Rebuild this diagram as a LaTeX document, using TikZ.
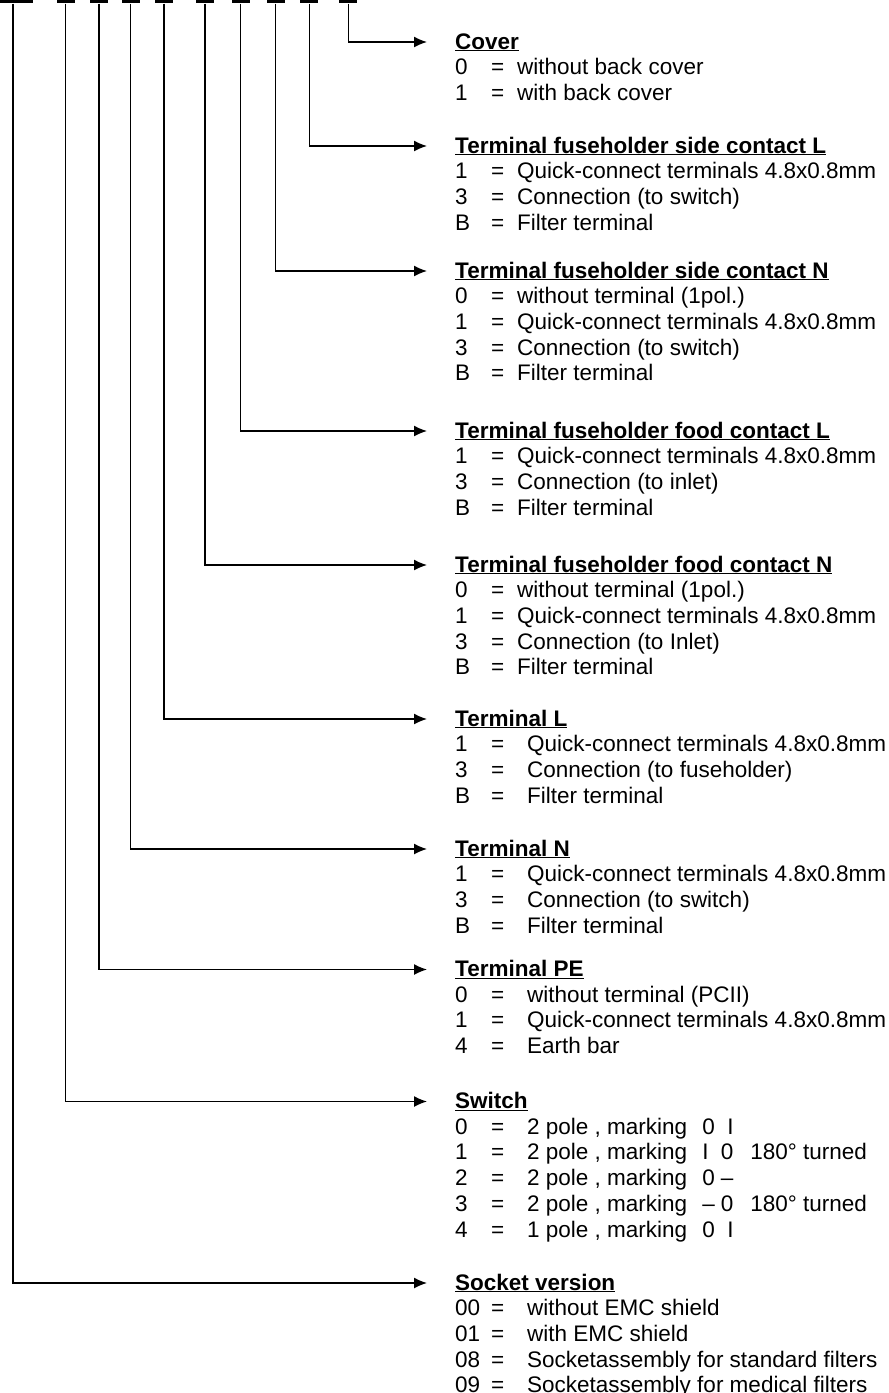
\documentclass[tikz,border=0pt]{standalone}
\usepackage{fontspec}
\setmainfont{Liberation Sans}
\usepackage{tikz}
\usetikzlibrary{arrows.meta}

\newcommand{\optfont}{\fontsize{22.5pt}{25.7pt}\selectfont}
\newcommand{\optrow}[3]{\makebox[36pt][l]{#1}\makebox[#2][l]{=}#3}

\tikzset{
    keybar/.style   = {fill=black, inner sep=0pt, minimum width=18pt, minimum height=3.4pt},
    codelink/.style = {black, line width=1.4pt, -{Latex[length=13pt, width=11pt]}},
    headtext/.style = {anchor=west, inner sep=0pt, text height=14pt, text depth=0pt, font=\optfont\bfseries},
    opttext/.style  = {anchor=base west, inner sep=0pt, font=\optfont},
}

\begin{document}
\begin{tikzpicture}[x=1pt, y=-1pt]
            \useasboundingbox (0,0) rectangle (889,1393);

            % key bars along the top edge
            \foreach \n/\x in {1/13, 2/65.7, 3/99, 4/130.7, 5/164, 6/205, 7/240.7, 8/275.7, 9/309.3, 10/348.3}
                \node       [keybar]                (k\n)       at (\x,1.7) {};
            \node       [keybar, minimum width=40pt] (k1)       at (13,1.7) {};         % wide first bar

            % headings
            \node       [headtext]  (hcover)    at (455,42)     {\underline{Cover}};
            \node       [headtext]  (hsidel)    at (455,146)    {\underline{Terminal fuseholder side contact L}};
            \node       [headtext]  (hsiden)    at (455,271)    {\underline{Terminal fuseholder side contact N}};
            \node       [headtext]  (hfoodl)    at (455,431)    {\underline{Terminal fuseholder food contact L}};
            \node       [headtext]  (hfoodn)    at (455,565)    {\underline{Terminal fuseholder food contact N}};
            \node       [headtext]  (hterml)    at (455,719)    {\underline{Terminal L}};
            \node       [headtext]  (htermn)    at (455,849)    {\underline{Terminal N}};
            \node       [headtext]  (htermpe)   at (455,969.5)  {\underline{Terminal PE}};
            \node       [headtext]  (hswitch)   at (455,1101.5) {\underline{Switch}};
            \node       [headtext]  (hsocket)   at (455,1283)   {\underline{Socket version}};

            % options below each heading
            \foreach \c/\t [count=\i] in {0/without back cover, 1/with back cover}
                \node   [opttext]   (cover\i)   at ([yshift=-\i*25.7pt]hcover.base west) {\optrow{\c}{26pt}{\t}};
            \foreach \c/\t [count=\i] in {1/Quick-connect terminals 4.8x0.8mm, 3/Connection (to switch), B/Filter terminal}
                \node   [opttext]   (sidel\i)   at ([yshift=-\i*25.7pt]hsidel.base west) {\optrow{\c}{26pt}{\t}};
            \foreach \c/\t [count=\i] in {0/without terminal (1pol.), 1/Quick-connect terminals 4.8x0.8mm, 3/Connection (to switch), B/Filter terminal}
                \node   [opttext]   (siden\i)   at ([yshift=-\i*25.7pt]hsiden.base west) {\optrow{\c}{26pt}{\t}};
            \foreach \c/\t [count=\i] in {1/Quick-connect terminals 4.8x0.8mm, 3/Connection (to inlet), B/Filter terminal}
                \node   [opttext]   (foodl\i)   at ([yshift=-\i*25.7pt]hfoodl.base west) {\optrow{\c}{26pt}{\t}};
            \foreach \c/\t [count=\i] in {0/without terminal (1pol.), 1/Quick-connect terminals 4.8x0.8mm, 3/Connection (to Inlet), B/Filter terminal}
                \node   [opttext]   (foodn\i)   at ([yshift=-\i*25.7pt]hfoodn.base west) {\optrow{\c}{26pt}{\t}};
            \foreach \c/\t [count=\i] in {1/Quick-connect terminals 4.8x0.8mm, 3/Connection (to fuseholder), B/Filter terminal}
                \node   [opttext]   (terml\i)   at ([yshift=-\i*25.7pt]hterml.base west) {\optrow{\c}{36pt}{\t}};
            \foreach \c/\t [count=\i] in {1/Quick-connect terminals 4.8x0.8mm, 3/Connection (to switch), B/Filter terminal}
                \node   [opttext]   (termn\i)   at ([yshift=-\i*25.7pt]htermn.base west) {\optrow{\c}{36pt}{\t}};
            \foreach \c/\t [count=\i] in {0/without terminal (PCII), 1/Quick-connect terminals 4.8x0.8mm, 4/Earth bar}
                \node   [opttext]   (termpe\i)  at ([yshift=-\i*25.7pt]htermpe.base west) {\optrow{\c}{36pt}{\t}};
            \foreach \c/\t [count=\i] in {0/{2 pole , marking\hspace{15pt}0\ \ I},
                                          1/{2 pole , marking\hspace{15pt}I\ \ 0\hspace{16.75pt}180° turned},
                                          2/{2 pole , marking\hspace{15pt}0 –},
                                          3/{2 pole , marking\hspace{15pt}– 0\hspace{16.75pt}180° turned},
                                          4/{1 pole , marking\hspace{15pt}0\ \ I}}
                \node   [opttext]   (switch\i)  at ([yshift=-\i*25.7pt]hswitch.base west) {\optrow{\c}{36pt}{\t}};
            \foreach \c/\t [count=\i] in {00/without EMC shield, 01/with EMC shield, 08/Socketassembly for standard filters, 09/Socketassembly for medical filters}
                \node   [opttext]   (socket\i)  at ([yshift=-\i*25.7pt]hsocket.base west) {\optrow{\c}{36pt}{\t}};

            % connectors from the key bars to the headings
            \draw       [codelink]  (k10.south) |- ([xshift=-28pt]hcover.west);      % Cover
            \draw       [codelink]  (k9.south)  |- ([xshift=-28pt]hsidel.west);      % side contact L
            \draw       [codelink]  (k8.south)  |- ([xshift=-28pt]hsiden.west);      % side contact N
            \draw       [codelink]  (k7.south)  |- ([xshift=-28pt]hfoodl.west);      % food contact L
            \draw       [codelink]  (k6.south)  |- ([xshift=-28pt]hfoodn.west);      % food contact N
            \draw       [codelink]  (k5.south)  |- ([xshift=-28pt]hterml.west);      % Terminal L
            \draw       [codelink]  (k4.south)  |- ([xshift=-28pt]htermn.west);      % Terminal N
            \draw       [codelink]  (k3.south)  |- ([xshift=-28pt]htermpe.west);     % Terminal PE
            \draw       [codelink]  (k2.south)  |- ([xshift=-28pt]hswitch.west);     % Switch
            \draw       [codelink]  (k1.south)  |- ([xshift=-28pt]hsocket.west);     % Socket version
\end{tikzpicture}
\end{document}
